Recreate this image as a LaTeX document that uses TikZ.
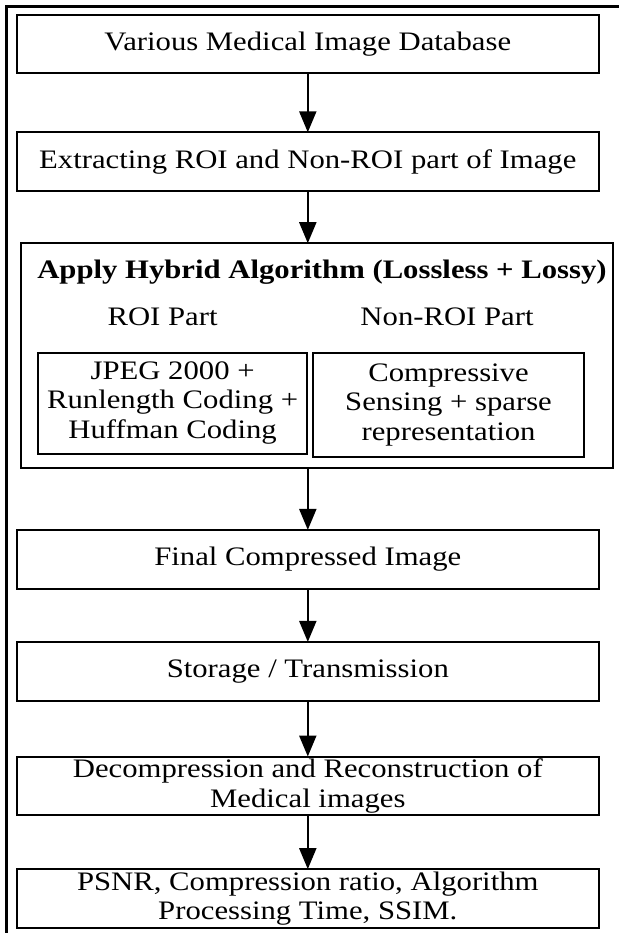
\documentclass[tikz,border=0pt]{standalone}
\usepackage{fontspec}
\setmainfont{Liberation Serif}[FakeStretch=1.15]
\usetikzlibrary{arrows.meta, positioning}

\begin{document}
\begin{tikzpicture}[x=1pt, y=1pt, font=\fontsize{26.7}{29.5}\selectfont]
    % Styles
    \tikzstyle{block} = [rectangle, draw, line width=2pt, outer sep=0pt, inner sep=0pt, minimum width=582pt, minimum height=58.6pt, align=center]
    \tikzstyle{part} = [rectangle, draw, line width=2pt, outer sep=0pt, inner sep=0pt, align=center]
    \tikzstyle{caption} = [inner sep=0pt, outer sep=0pt]
    \tikzstyle{line} = [draw, line width=2.2pt, -{Triangle[length=21pt, width=17pt]}]
    \tikzstyle{frame} = [draw, line width=2.8pt]

    \useasboundingbox (0,0) rectangle (619,-933);
    \path [frame] (6.5,-933) |- (619,-6.5);

    % Nodes
    \node [block] (db) at (307.8,-44) {Various Medical Image Database};
    \node [block, below=59pt of db] (extract) {Extracting ROI and Non-ROI part of Image};
    \node [block, below=52.3pt of extract, xshift=9pt, minimum width=592.5pt, minimum height=224.3pt] (hybrid) {};
    \node [caption, anchor=base, xshift=5.2pt, yshift=-35.3pt, font=\fontsize{26.7}{29.5}\selectfont\bfseries] (algo) at (hybrid.north) {Apply Hybrid Algorithm (Lossless + Lossy)};
    \node [part, anchor=north west, xshift=17.8pt, yshift=-109.3pt, minimum width=268.5pt, minimum height=101pt] (roi) at (hybrid.north west) {JPEG 2000 +\\Runlength Coding +\\Huffman Coding};
    \node [part, right=5.9pt of roi.north east, anchor=north west, minimum width=271.6pt, minimum height=104pt] (nonroi) {Compressive\\Sensing + sparse\\representation};
    \node [caption, above=27pt of roi.north, xshift=-10pt] (roipart) {ROI Part};
    \node [caption, above=27pt of nonroi.north, xshift=-1.5pt] (nonroipart) {Non-ROI Part};
    \node [block, below=62.4pt of hybrid, xshift=-9pt] (final) {Final Compressed Image};
    \node [block, below=53.4pt of final] (store) {Storage / Transmission};
    \node [block, below=56pt of store] (decomp) {Decompression and Reconstruction of\\Medical images};
    \node [block, below=54pt of decomp] (metrics) {PSNR, Compression ratio, Algorithm\\Processing Time, SSIM.};

    % Paths
    \path [line] (db) -- (extract);
    \path [line] (extract) -- (extract.south |- hybrid.north);
    \path [line] (final.north |- hybrid.south) -- (final);
    \path [line] (final) -- (store);
    \path [line] (store) -- (decomp);
    \path [line] (decomp) -- (metrics);
\end{tikzpicture}
\end{document}
